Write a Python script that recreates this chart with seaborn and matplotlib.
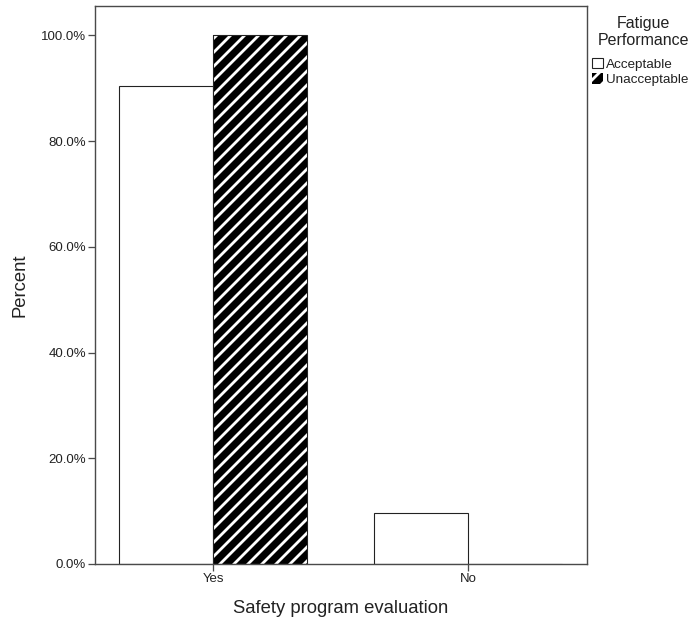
import matplotlib
matplotlib.use("Agg")
import matplotlib.pyplot as plt
import seaborn as sns
import pandas as pd
from matplotlib.patches import Patch, Rectangle
from matplotlib.ticker import FuncFormatter

categories = ["Yes", "No"]
groups = ["Acceptable", "Unacceptable"]
acceptable_pct = [90.4, 9.6]
unacceptable_pct = [100.0, 0.0]
yticks = [0, 20, 40, 60, 80, 100]

df = pd.DataFrame({
    "evaluation": categories * 2,
    "group": [groups[0]] * 2 + [groups[1]] * 2,
    "pct": acceptable_pct + unacceptable_pct,
})

DPI = 84


def pt(px):
    return px * 72.0 / DPI


sns.set_style("white")
plt.rcParams["font.family"] = ["Liberation Sans", "DejaVu Sans"]
plt.rcParams["hatch.linewidth"] = pt(2.8)

fig = plt.figure(figsize=(694 / DPI, 625 / DPI), dpi=DPI)
ax = fig.add_axes([0.137, 0.0976, 0.709, 0.8924])

edge = "#222222"
axis_col = "#4a4a4a"
text_col = "#222222"

sns.barplot(data=df, x="evaluation", y="pct", hue="group", order=categories,
            hue_order=groups, palette=["white", "white"], width=0.737,
            edgecolor=edge, linewidth=pt(1.1), ax=ax, legend=False, errorbar=None)

bars = [p for p in ax.patches if isinstance(p, Rectangle)]
# seaborn adds patches by hue level: first Acceptable (Yes, No), then Unacceptable
for i, p in enumerate(bars):
    p.set_edgecolor(edge)
    p.set_linewidth(pt(1.1))
    if i >= 2:
        p.set_facecolor("black")
        p.set_edgecolor("white")
        p.set_hatch("//")
        p.set_linewidth(0)
        outline = Rectangle((p.get_x(), p.get_y()), p.get_width(), p.get_height(),
                            fill=False, edgecolor=edge, linewidth=pt(1.1),
                            zorder=p.get_zorder() + 0.1)
        ax.add_patch(outline)

ax.set_xlim(-0.463, 1.467)
ax.set_ylim(0, 105.5)
ax.set_yticks(yticks)
ax.yaxis.set_major_formatter(FuncFormatter(lambda v, _: f"{v:.1f}%"))
ax.tick_params(axis="both", direction="out", length=pt(7), width=pt(1.3), color=axis_col,
               labelsize=pt(13.2), labelcolor=text_col, left=True, bottom=True, pad=pt(2))
for s in ax.spines.values():
    s.set_color(axis_col)
    s.set_linewidth(pt(1.4))
ax.set_xlabel("Safety program evaluation", fontsize=pt(18.5), color=text_col, labelpad=pt(15))
ax.set_ylabel("Percent", fontsize=pt(18.5), color=text_col, labelpad=pt(12))

fig.text(643 / 694, 1 - 16 / 625, "Fatigue\nPerformance", ha="center", va="top",
         multialignment="center", fontsize=pt(16), color=text_col)

handles = [
    Patch(facecolor="white", edgecolor=edge, linewidth=pt(1.1), label="Acceptable"),
    Patch(facecolor="black", edgecolor="white", hatch="//", linewidth=0, label="Unacceptable"),
]
leg = fig.legend(handles=handles, loc="upper left",
                 bbox_to_anchor=(592 / 694, 1 - 58 / 625), frameon=False,
                 fontsize=pt(13.5),
                 handlelength=0.8, handleheight=0.8,
                 handletextpad=0.25, labelspacing=0.18, borderpad=0.0,
                 borderaxespad=0.0)
for t in leg.get_texts():
    t.set_color(text_col)

fig.savefig("out.png", dpi=DPI)
